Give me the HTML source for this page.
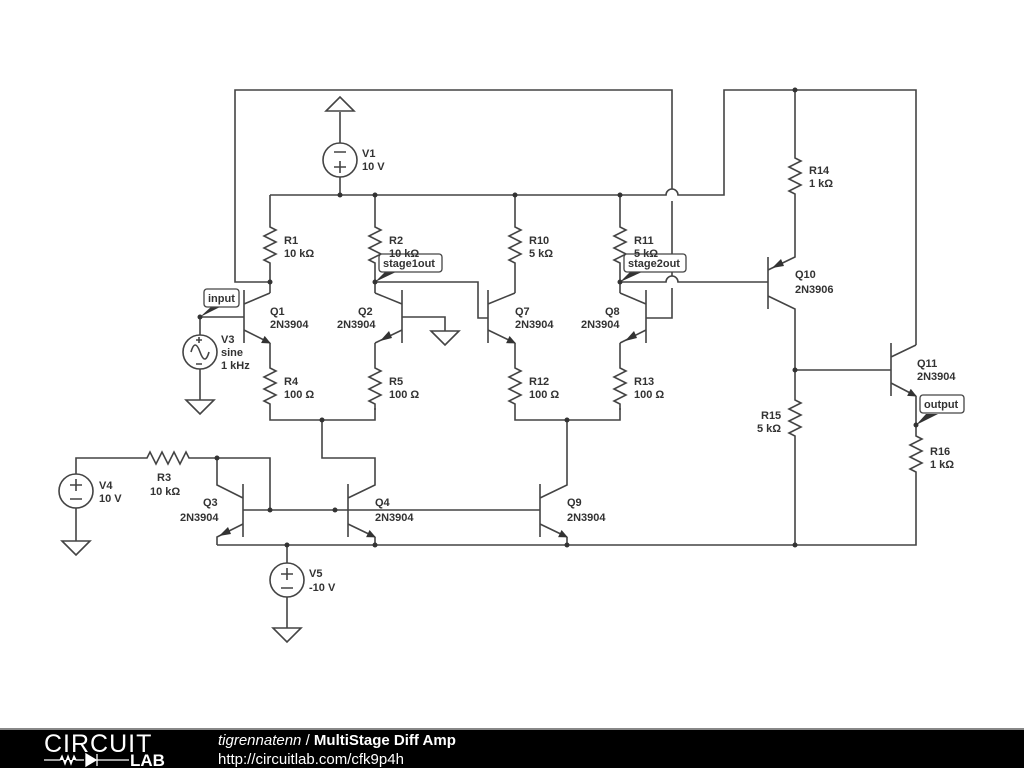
<!DOCTYPE html>
<html><head><meta charset="utf-8"><style>
html,body{margin:0;padding:0;background:#fff;width:1024px;height:768px;overflow:hidden}
svg{display:block}
text{font-family:"Liberation Sans",sans-serif;font-size:11px;font-weight:bold;fill:#333}
</style></head><body>
<svg width="1024" height="768" viewBox="0 0 1024 768">
<defs>
<marker id="ar" markerWidth="10" markerHeight="10" refX="8" refY="4" orient="auto" markerUnits="userSpaceOnUse"><path d="M0,0 L9,4 L0,8 Z" fill="#333"/></marker>
</defs>
<g fill="none" stroke="#444" stroke-width="1.6">
<path d="M270,195 H666 a6,6 0 0 1 12,0 H724 V90 H916 V345"/>
<path d="M795,90 V158 l6,3 -12,6 12,6 -12,6 12,6 -12,6 6,3 V257 L768,270"/>
<path d="M270,282 H235 V90 H672 V189 M672,201 V276 M672,288 V318 H646"/>
<path d="M340,112 V143 M340,177 V195"/>
<circle cx="340" cy="160" r="17"/>
<path d="M326,111 L340,97 L354,111 Z"/>
<path d="M334,152 h12 M334,167 h12 M340,161 v12"/>
<path d="M270,195 V227 l6,3 -12,6 12,6 -12,6 12,6 -12,6 6,3 V293"/>
<path d="M244,290 V343 M244,304 L270,293 M200,317 H244"/>
<path d="M244,330 L270,343" marker-end="url(#ar)"/>
<path d="M270,343 V368 l6,3 -12,6 12,6 -12,6 12,6 -12,6 6,3 V420 H375 V408"/>
<path d="M200,317 V335 M200,369 V400"/>
<circle cx="200" cy="352" r="17"/>
<path d="M191,352 q4,-14 9,0 t9,0"/>
<path d="M196,340 h6 M199,337 v6 M196,364 h6"/>
<path d="M186,400 L200,414 L214,400 Z"/>
<path d="M375,195 V227 l6,3 -12,6 12,6 -12,6 12,6 -12,6 6,3 V293"/>
<path d="M402,290 V343 M375,293 L402,304 M402,317 H445 V331"/>
<path d="M431,331 L445,345 L459,331 Z"/>
<path d="M375,343 L402,330"/>
<path d="M375,343 V368 l6,3 -12,6 12,6 -12,6 12,6 -12,6 6,3 V410"/>
<path d="M375,282 H478 V318 H488"/>
<path d="M515,195 V227 l6,3 -12,6 12,6 -12,6 12,6 -12,6 6,3 V293"/>
<path d="M488,290 V343 M488,304 L515,293"/>
<path d="M488,330 L515,343" marker-end="url(#ar)"/>
<path d="M515,343 V368 l6,3 -12,6 12,6 -12,6 12,6 -12,6 6,3 V420 H620 V408"/>
<path d="M620,195 V227 l6,3 -12,6 12,6 -12,6 12,6 -12,6 6,3 V293"/>
<path d="M646,290 V343 M620,293 L646,304"/>
<path d="M620,343 L646,330"/>
<path d="M620,343 V368 l6,3 -12,6 12,6 -12,6 12,6 -12,6 6,3 V410"/>
<path d="M620,282 H666 a6,6 0 0 1 12,0 H768"/>
<path d="M768,257 V309 M768,296 L795,309 V400 l6,3 -12,6 12,6 -12,6 12,6 -12,6 6,3 V545"/>
<path d="M795,370 H891"/>
<path d="M891,343 V396 M891,357 L916,345"/>
<path d="M891,383 L916,396" marker-end="url(#ar)"/>
<path d="M916,396 V436 l6,3 -12,6 12,6 -12,6 12,6 -12,6 6,3 V545 H217"/>
<path d="M567,420 V485 L540,498 M540,484 V537"/>
<path d="M540,524 L567,537" marker-end="url(#ar)"/>
<path d="M567,537 V545"/>
<path d="M322,420 V458 H375 V485 L348,498 M348,484 V537"/>
<path d="M348,524 L375,537" marker-end="url(#ar)"/>
<path d="M375,537 V545"/>
<path d="M243,484 V537 M243,498 L217,485 V458 H270 V510 M243,510 H540"/>
<path d="M217,545 V537 L243,524"/>
<path d="M76,474 V458 H147 l3,-6 6,12 6,-12 6,12 6,-12 6,12 6,-12 3,6 H217"/>
<circle cx="76" cy="491" r="17"/>
<path d="M70,485 h12 M76,479 v12 M70,499 h12 M76,508 V541"/>
<path d="M62,541 L76,555 L90,541 Z"/>
<path d="M287,545 V563 M287,597 V628"/>
<circle cx="287" cy="580" r="17"/>
<path d="M281,574 h12 M287,568 v12 M281,588 h12"/>
<path d="M273,628 L287,642 L301,628 Z"/>
</g>
<g fill="#333">
<path d="M380,341 L389,331 L392,338 Z"/>
<path d="M625,341 L634,331 L637,338 Z"/>
<path d="M772,268 L781,259 L784,266 Z"/>
<path d="M219,536 L228,527 L231,534 Z"/>
</g>
<g fill="#333">
<circle cx="340" cy="195" r="2.5"/><circle cx="375" cy="195" r="2.5"/><circle cx="515" cy="195" r="2.5"/><circle cx="620" cy="195" r="2.5"/>
<circle cx="270" cy="282" r="2.5"/><circle cx="375" cy="282" r="2.5"/><circle cx="620" cy="282" r="2.5"/>
<circle cx="200" cy="317" r="2.5"/><circle cx="322" cy="420" r="2.5"/><circle cx="567" cy="420" r="2.5"/>
<circle cx="795" cy="90" r="2.5"/><circle cx="795" cy="370" r="2.5"/><circle cx="916" cy="425" r="2.5"/>
<circle cx="217" cy="458" r="2.5"/><circle cx="270" cy="510" r="2.5"/><circle cx="335" cy="510" r="2.5"/>
<circle cx="287" cy="545" r="2.5"/><circle cx="375" cy="545" r="2.5"/><circle cx="567" cy="545" r="2.5"/><circle cx="795" cy="545" r="2.5"/>
</g>
<g>
<path d="M200,317 L212,306 L222,306 Z" fill="#333"/>
<rect x="204" y="289" width="35" height="18" rx="3" fill="#fff" stroke="#444" stroke-width="1.3"/>
<text x="208" y="302">input</text>
<path d="M375,282 L386,271 L398,271 Z" fill="#333"/>
<rect x="379" y="254" width="63" height="18" rx="3" fill="#fff" stroke="#444" stroke-width="1.3"/>
<text x="383" y="267">stage1out</text>
<path d="M620,282 L630,272 L642,272 Z" fill="#333"/>
<rect x="624" y="254" width="62" height="18" rx="3" fill="#fff" stroke="#444" stroke-width="1.3"/>
<text x="628" y="267">stage2out</text>
<path d="M916,425 L926,414 L938,414 Z" fill="#333"/>
<rect x="920" y="395" width="44" height="18" rx="3" fill="#fff" stroke="#444" stroke-width="1.3"/>
<text x="924" y="408">output</text>
</g>
<text x="362" y="157">V1</text><text x="362" y="170">10 V</text>
<text x="284" y="244">R1</text><text x="284" y="257">10 kΩ</text>
<text x="389" y="244">R2</text><text x="389" y="257">10 kΩ</text>
<text x="529" y="244">R10</text><text x="529" y="257">5 kΩ</text>
<text x="634" y="244">R11</text><text x="634" y="257">5 kΩ</text>
<text x="270" y="315">Q1</text><text x="270" y="328">2N3904</text>
<text x="358" y="315">Q2</text><text x="337" y="328">2N3904</text>
<text x="515" y="315">Q7</text><text x="515" y="328">2N3904</text>
<text x="605" y="315">Q8</text><text x="581" y="328">2N3904</text>
<text x="221" y="343">V3</text><text x="221" y="356">sine</text><text x="221" y="369">1 kHz</text>
<text x="284" y="385">R4</text><text x="284" y="398">100 Ω</text>
<text x="389" y="385">R5</text><text x="389" y="398">100 Ω</text>
<text x="529" y="385">R12</text><text x="529" y="398">100 Ω</text>
<text x="634" y="385">R13</text><text x="634" y="398">100 Ω</text>
<text x="809" y="174">R14</text><text x="809" y="187">1 kΩ</text>
<text x="795" y="278">Q10</text><text x="795" y="293">2N3906</text>
<text x="917" y="367">Q11</text><text x="917" y="380">2N3904</text>
<text x="761" y="419">R15</text><text x="757" y="432">5 kΩ</text>
<text x="930" y="455">R16</text><text x="930" y="468">1 kΩ</text>
<text x="157" y="481">R3</text><text x="150" y="495">10 kΩ</text>
<text x="99" y="489">V4</text><text x="99" y="502">10 V</text>
<text x="203" y="506">Q3</text><text x="180" y="521">2N3904</text>
<text x="375" y="506">Q4</text><text x="375" y="521">2N3904</text>
<text x="567" y="506">Q9</text><text x="567" y="521">2N3904</text>
<text x="309" y="577">V5</text><text x="309" y="591">-10 V</text>
<rect x="0" y="729" width="1024" height="39" fill="#000"/>
<rect x="0" y="728" width="1024" height="2" fill="#888"/>
<text x="44" y="752" style="font-size:25px;font-weight:normal;fill:#fff;letter-spacing:1px">CIRCUIT</text>
<path d="M44,760 h16 l2,-4 3,8 3,-8 3,8 3,-8 2,4 h8 M86,754 v12 l10,-6 z M97,754 v12 M97,760 h32" stroke="#fff" stroke-width="1.3" fill="#fff"/>
<text x="130" y="766" style="font-size:17px;font-weight:bold;fill:#fff">LAB</text>
<text x="218" y="745" style="font-size:15px;fill:#fff"><tspan style="font-style:italic;font-weight:normal">tigrennatenn</tspan><tspan style="font-weight:normal"> / </tspan>MultiStage Diff Amp</text>
<text x="218" y="764" style="font-size:15px;font-weight:normal;fill:#fff">http://circuitlab.com/cfk9p4h</text>
</svg>
</body></html>
